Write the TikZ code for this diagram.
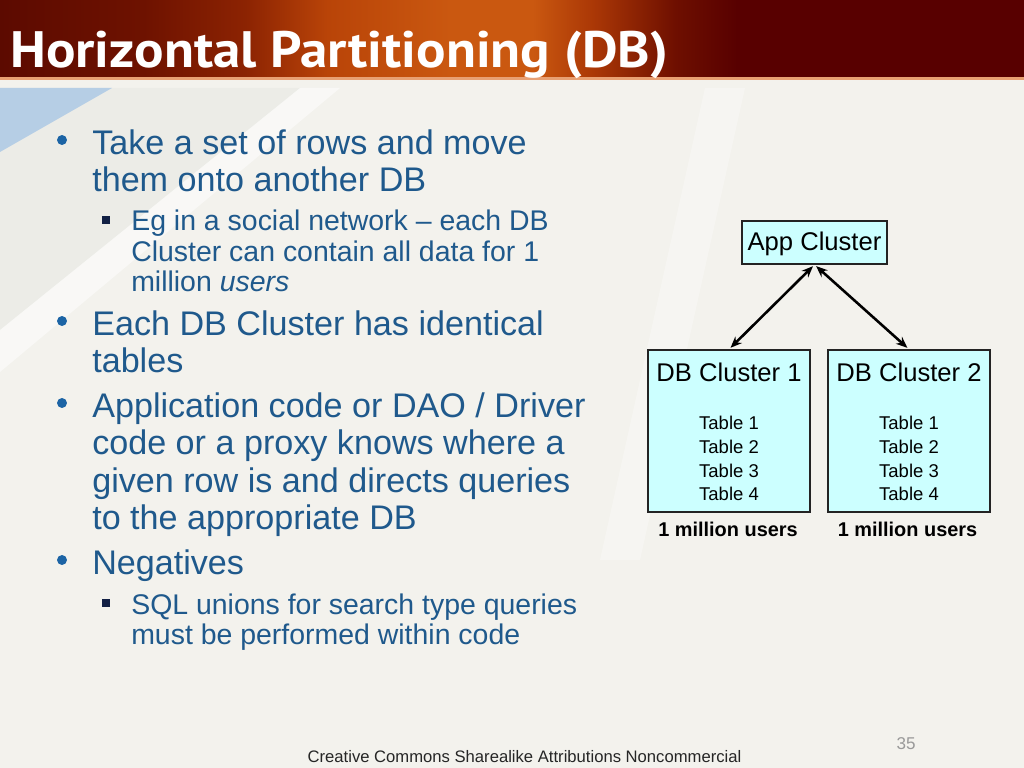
\documentclass[tikz,border=0pt]{standalone}
\usepackage{fontspec}
\setmainfont{Liberation Sans}
\newfontfamily\titlefont{PT Sans}
\usetikzlibrary{arrows.meta}
\definecolor{bg}{RGB}{243,242,237}
\definecolor{bggray}{RGB}{236,236,231}
\definecolor{bluetri}{RGB}{182,206,229}
\definecolor{txt}{RGB}{31,89,140}
\definecolor{dotc}{RGB}{28,100,165}
\definecolor{sqc}{RGB}{18,32,68}
\definecolor{boxfill}{RGB}{204,255,255}
\definecolor{boxline}{RGB}{35,35,35}
\definecolor{tA}{RGB}{92,10,0}
\definecolor{tB}{RGB}{110,18,0}
\definecolor{tC}{RGB}{140,35,2}
\definecolor{tD}{RGB}{185,68,8}
\definecolor{tE}{RGB}{202,88,16}
\definecolor{tF}{RGB}{170,55,6}
\definecolor{tG}{RGB}{110,15,0}
\definecolor{tH}{RGB}{88,0,0}
\definecolor{stripe}{RGB}{232,160,115}
\pgfdeclarehorizontalshading{titleshade}{100bp}{%
 color(0bp)=(tA); color(25bp)=(tA); color(32bp)=(tB); color(37bp)=(tC);
 color(41bp)=(tD); color(47bp)=(tE); color(51bp)=(tE); color(54bp)=(tF);
 color(58bp)=(tG); color(61bp)=(tH); color(75bp)=(tH); color(100bp)=(tH)}
\tikzset{
 l1/.style={anchor=base west, inner sep=0, text=txt, font=\fontsize{24}{28}\selectfont},
 l2/.style={anchor=base west, inner sep=0, text=txt, font=\fontsize{20}{24}\selectfont},
 bdot/.style={circle, fill=dotc, inner sep=0, minimum size=7pt},
 bsq/.style={rectangle, fill=sqc, inner sep=0, minimum size=5.4pt},
 box/.style={draw=boxline, fill=boxfill, line width=1pt, inner sep=0},
 boxtitle/.style={anchor=base, inner sep=0, font=\fontsize{18}{20}\selectfont},
 tbl/.style={anchor=base, inner sep=0, font=\fontsize{13}{15}\selectfont},
 users/.style={anchor=base, inner sep=0, font=\bfseries\fontsize{14}{16}\selectfont},
 link/.style={{Stealth[length=8pt,width=6.5pt]}-{Stealth[length=8pt,width=6.5pt]}, line width=1.8pt, black, shorten <=1.5pt, shorten >=1.5pt}
}
\begin{document}
\begin{tikzpicture}[x=0.703125pt,y=-0.703125pt]
\useasboundingbox (0,0) rectangle (1024,768);
% background
\fill[bg] (0,0) rectangle (1024,768);
\fill[bggray] (0,88) -- (300,88) -- (0,330) -- cycle;
\fill[white,opacity=0.5] (0,330) -- (300,88) -- (340,88) -- (0,372) -- cycle;
\fill[white,opacity=0.3] (600,560) -- (640,560) -- (745,88) -- (705,88) -- cycle;
\fill[bluetri] (0,88) -- (112,88) -- (0,152) -- cycle;
% title bar
\shade[shading=titleshade] (0,0) rectangle (1024,78);
\fill[stripe] (0,77) rectangle (1024,80);
\node[anchor=base west, inner sep=0, text=white] (title) at (10,68)
 {\resizebox{462.7pt}{\height}{\titlefont\bfseries\fontsize{36}{40}\selectfont Horizontal Partitioning (DB)}};
% bullets
\node[bdot] (d1) at (62,140) {};
\node[l1] (b1a) at (92,154.5) {Take a set of rows and move};
\node[l1] (b1b) at (92,191.5) {them onto another DB};
\node[bsq] (s1) at (106,220) {};
\node[l2] (s1a) at (131,231) {Eg in a social network – each DB};
\node[l2] (s1b) at (131,262) {Cluster can contain all data for 1};
\node[l2] (s1c) at (131,292) {million \textit{users}};
\node[bdot] (d2) at (62,321) {};
\node[l1] (b2a) at (92,335.5) {Each DB Cluster has identical};
\node[l1] (b2b) at (92,372.5) {tables};
\node[bdot] (d3) at (62,403) {};
\node[l1] (b3a) at (92,417.5) {Application code or DAO / Driver};
\node[l1] (b3b) at (92,454.5) {code or a proxy knows where a};
\node[l1] (b3c) at (92,492) {given row is and directs queries};
\node[l1] (b3d) at (92,529.5) {to the appropriate DB};
\node[bdot] (d4) at (62,560) {};
\node[l1] (b4a) at (92,574.5) {Negatives};
\node[bsq] (s2) at (106,603) {};
\node[l2] (s2a) at (131,614) {SQL unions for search type queries};
\node[l2] (s2b) at (131,644) {must be performed within code};
% diagram
\node[box, minimum width=101.95pt, minimum height=30.2pt] (app) at (814.5,242.5) {};
\node[boxtitle] (applbl) at (814.5,251) {App Cluster};
\node[box, minimum width=113.9pt, minimum height=113.9pt] (db1) at (729,431) {};
\node[box, minimum width=113.9pt, minimum height=113.9pt] (db2) at (909,431) {};
\node[boxtitle] (db1t) at (729,381.5) {DB Cluster 1};
\node[boxtitle] (db2t) at (909,381.5) {DB Cluster 2};
\node[tbl] (t11) at (729,429.5) {Table 1};
\node[tbl] (t12) at (729,453.5) {Table 2};
\node[tbl] (t13) at (729,477.5) {Table 3};
\node[tbl] (t14) at (729,500.5) {Table 4};
\node[tbl] (t21) at (909,429.5) {Table 1};
\node[tbl] (t22) at (909,453.5) {Table 2};
\node[tbl] (t23) at (909,477.5) {Table 3};
\node[tbl] (t24) at (909,500.5) {Table 4};
\node[users] (u1) at (728,536) {1 million users};
\node[users] (u2) at (907.5,536) {1 million users};
\draw[link] (app.south) -- (db1.north);
\draw[link] (app.south) -- (db2.north);
% footer
\node[anchor=base, inner sep=0, font=\fontsize{11.7}{13}\selectfont, text=black!85] (foot) at (524.5,762) {Creative Commons Sharealike Attributions Noncommercial};
\node[anchor=base, inner sep=0, font=\fontsize{12}{14}\selectfont, text=black!40] (pnum) at (906,749) {35};
\end{tikzpicture}
\end{document}
